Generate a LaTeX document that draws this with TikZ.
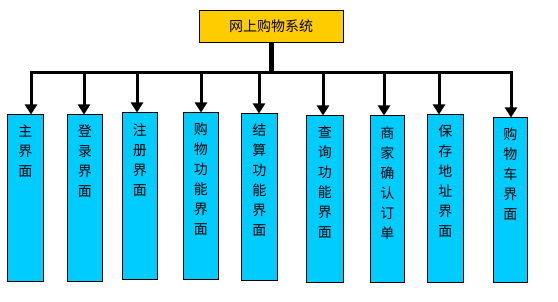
\documentclass[tikz,border=0pt]{standalone}
\usepackage{fontspec}
\setmainfont{Noto Sans CJK SC}
\usetikzlibrary{arrows.meta}
\definecolor{topfill}{HTML}{FFCC00}
\definecolor{boxfill}{HTML}{00CCFF}
\tikzset{
  topbox/.style={draw=black, line width=0.9pt, fill=topfill, inner sep=0pt,
    minimum width=144pt, minimum height=32pt, font=\fontsize{14}{16}\selectfont},
  subbox/.style={draw=black, line width=0.9pt, fill=boxfill, inner sep=0pt, anchor=north west},
  lbl/.style={inner sep=0pt, anchor=north, align=center, font=\fontsize{14}{20}\selectfont},
  arr/.style={line width=3pt, -{Triangle[width=12pt,length=10pt]}, shorten >=-0.5pt},
  barline/.style={line width=3pt},
}
\begin{document}
\begin{tikzpicture}[x=1pt,y=-1pt]
\useasboundingbox (0,0) rectangle (558,302);
\node[topbox] (top) at (271,26) {网上购物系统};
% boxes: x-left, y-top, width, height
\node[subbox, minimum width=36pt, minimum height=167pt] (b1) at (7,114) {};
\node[subbox, minimum width=35pt, minimum height=167pt] (b2) at (67,114) {};
\node[subbox, minimum width=35pt, minimum height=167pt] (b3) at (122,112) {};
\node[subbox, minimum width=35pt, minimum height=167pt] (b4) at (183,112) {};
\node[subbox, minimum width=36pt, minimum height=167pt] (b5) at (241,113) {};
\node[subbox, minimum width=37pt, minimum height=167pt] (b6) at (306,115) {};
\node[subbox, minimum width=34pt, minimum height=167pt] (b7) at (370,115) {};
\node[subbox, minimum width=36pt, minimum height=168pt] (b8) at (427,114) {};
\node[subbox, minimum width=34pt, minimum height=165pt] (b9) at (493,117) {};
% labels
\node[lbl] (t1) at ([yshift=-11pt]b1.north) {主\\界\\面};
\node[lbl] (t2) at ([yshift=-11pt]b2.north) {登\\录\\界\\面};
\node[lbl] (t3) at ([yshift=-11pt]b3.north) {注\\册\\界\\面};
\node[lbl] (t4) at ([yshift=-11pt]b4.north) {购\\物\\功\\能\\界\\面};
\node[lbl] (t5) at ([yshift=-11pt]b5.north) {结\\算\\功\\能\\界\\面};
\node[lbl] (t6) at ([yshift=-11pt]b6.north) {查\\询\\功\\能\\界\\面};
\node[lbl] (t7) at ([yshift=-11pt]b7.north) {商\\家\\确\\认\\订\\单};
\node[lbl] (t8) at ([yshift=-11pt]b8.north) {保\\存\\地\\址\\界\\面};
\node[lbl] (t9) at ([yshift=-11pt]b9.north) {购\\物\\车\\界\\面};
% bar coordinates
\coordinate (c1) at (31,73);
\coordinate (c2) at (84,73);
\coordinate (c3) at (137,73);
\coordinate (c4) at (201,73);
\coordinate (c5) at (259,73);
\coordinate (c6) at (323,73);
\coordinate (c7) at (384,73);
\coordinate (c8) at (439,73);
\coordinate (c9) at (511,73);
\draw[line width=5pt] (top.south) -- (top.south |- c1);
\draw[barline] ([xshift=-1.5pt]c1) -- ([xshift=1.5pt]c9);
\foreach \i in {1,...,9} {
  \draw[arr] ([yshift=-1.5pt]c\i) -- (c\i |- b\i.north);
}
\end{tikzpicture}
\end{document}
